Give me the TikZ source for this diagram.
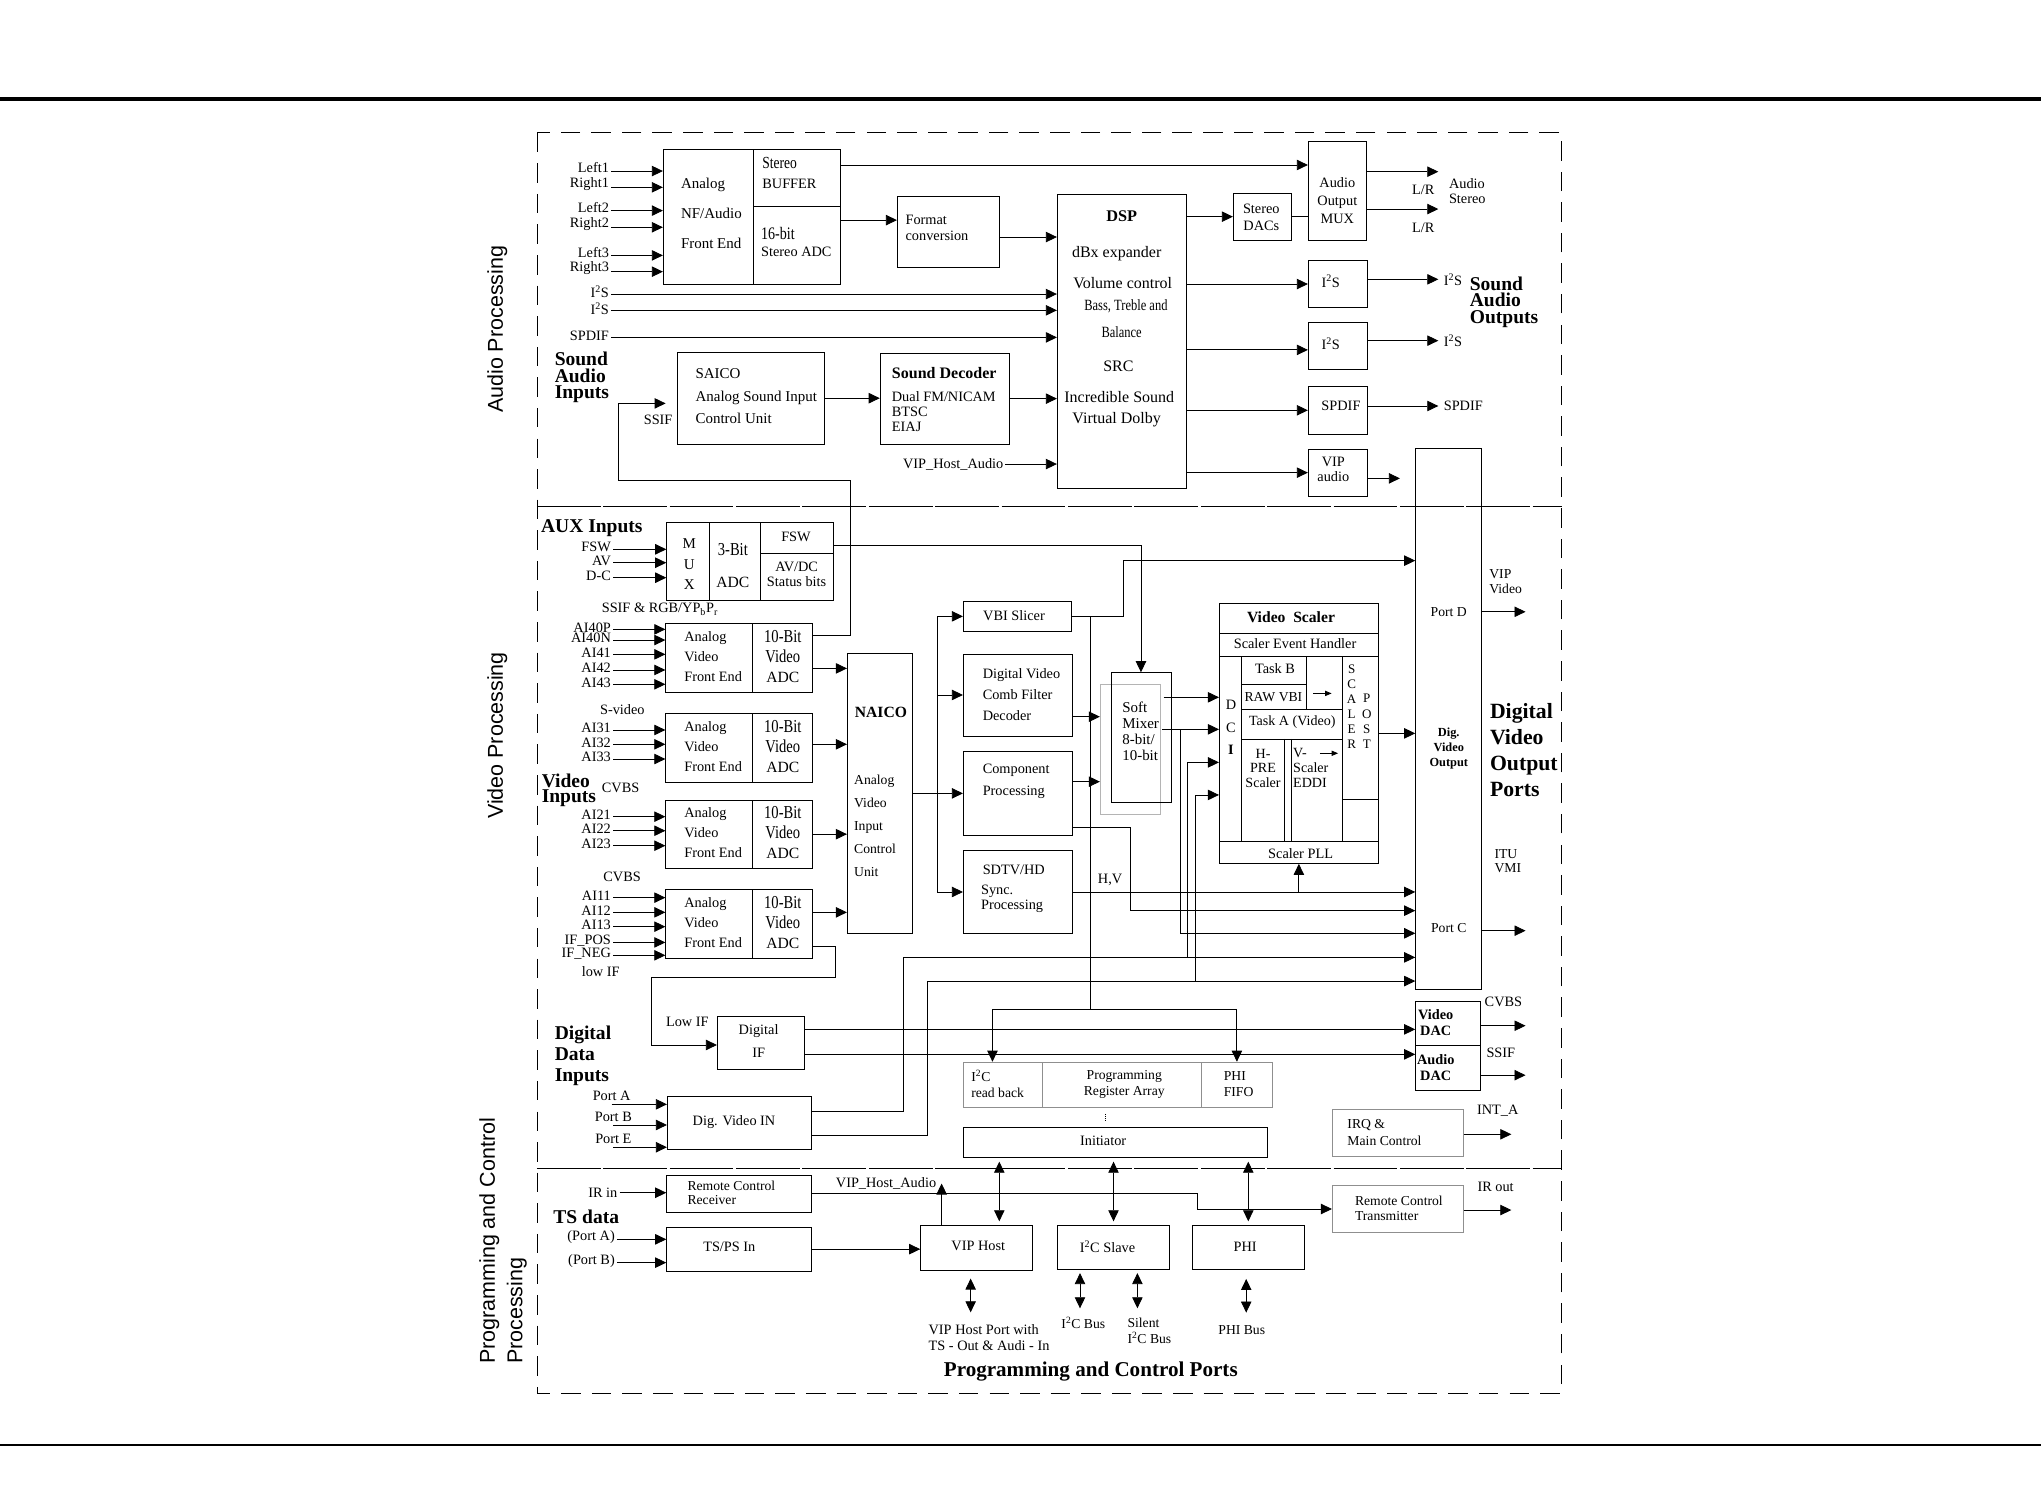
\documentclass[tikz,border=0pt]{standalone}
\usepackage{fontspec}
\setmainfont{Liberation Serif}
\setsansfont{Liberation Sans}
\usepackage{graphicx}
\usepackage{tikz}
\usetikzlibrary{arrows.meta,fit}
\definecolor{lgray}{HTML}{8F8F8F}
\definecolor{mgray}{HTML}{B4B4B4}
\newcommand{\narrowtxt}[1]{\scalebox{0.8}[1]{#1}}
\newcommand{\fsz}[2]{\fontsize{#1}{#2}\selectfont}
\tikzset{
  blk/.style={draw, line width=0.65pt, inner sep=0pt},
  gblk/.style={blk, draw=lgray},
  txt/.style={font=\fsz{11}{12}, inner sep=1pt, align=center},
  ltxt/.style={txt, align=left, anchor=west},
  inl/.style={txt, anchor=east, inner sep=1.5pt},
  outl/.style={txt, anchor=west, inner xsep=4pt},
  hd/.style={font=\fsz{15}{12.6}\bfseries, inner sep=0pt, align=left, anchor=west},
  sec/.style={font=\sffamily\fsz{16.5}{21}, inner sep=0pt},
  ln/.style={line width=0.65pt},
  arr/.style={ln, -{Triangle[length=8.5pt,width=8pt]}},
  darr/.style={ln, {Triangle[length=8.5pt,width=8pt]}-{Triangle[length=8.5pt,width=8pt]}},
}

\begin{document}
\begin{tikzpicture}[x=1pt,y=-1pt]
\useasboundingbox (0,0) rectangle (1568,1144);

% page rules, frame and section borders
\draw[line width=3.2pt] (0,76) -- (1568,76);
\draw[line width=1.4pt] (0,1110) -- (1568,1110);
\draw[ln, dash pattern=on 15pt off 8.5pt] (412.5,101.9) rectangle (1199.8,1070.2);
\draw[ln, dash pattern=on 49pt off 2pt] (412.5,389) -- (1199.8,389);
\draw[ln, dash pattern=on 49pt off 2pt] (412.5,898) -- (1199.8,898);

\node[sec, rotate=90] (secAud) at (382,253) {Audio Processing};
\node[sec, rotate=90] (secVid) at (382,565) {Video Processing};
\node[sec, rotate=90, anchor=west, align=left] (secPrg) at (386.5,1048) {Programming and Control\\Processing};

%% ---------------- audio ----------------
\node[blk, fit={(509.6,114.7) (579.1,218.4)}] (afe) {};
\node[blk, fit={(579.1,114.7) (645.5,158.8)}] (buf) {};
\node[blk, fit={(579.1,158.8) (645.5,218.4)}] (adc16) {};
\node[ltxt, font=\fsz{11.5}{23.4}] (afeT) at (522,163.9) {Analog\\NF/Audio\\Front End};
\node[ltxt, font=\fsz{11}{15.3}] (bufT) at (584.5,133.2) {\narrowtxt{\fsz{13}{15.3}Stereo}\\BUFFER};
\node[ltxt, font=\fsz{11}{13.3}] (adcT) at (583.5,186) {\narrowtxt{\fsz{13.5}{13.3}16-bit}\\Stereo ADC};

\node[blk, fit={(689.4,151.1) (767.8,205.1)}] (fmt) {};
\node[ltxt, font=\fsz{11}{12.8}] (fmtT) at (694.5,175) {Format\\conversion};

\node[blk, fit={(812.3,149.3) (911.1,375.2)}] (dsp) {};
\node[txt, font=\fsz{12.5}{14}\bfseries] (dspT) at (861.7,165.9) {DSP};
\node[txt, font=\fsz{12.3}{14}] (dspT1) at (857.9,195.1) {dBx expander};
\node[txt, font=\fsz{12.3}{14}] (dspT2) at (862.5,217.2) {Volume control};
\node[txt, font=\fsz{12}{14}] (dspT3) at (865,235.6) {\narrowtxt{Bass, Treble and}};
\node[txt, font=\fsz{12}{14}] (dspT4) at (861.7,254.8) {\narrowtxt{Balance}};
\node[txt, font=\fsz{12.3}{14}] (dspT5) at (859.2,281.2) {SRC};
\node[txt, font=\fsz{12.3}{14}] (dspT6) at (859.9,304.7) {Incredible Sound};
\node[txt, font=\fsz{12.3}{14}] (dspT7) at (857.9,322.1) {Virtual Dolby};

\node[blk, fit={(947.5,148.5) (992.1,184.4)}] (dacs) {};
\node[txt, font=\fsz{11}{12.8}] (dacsT) at (969,167.2) {Stereo\\DACs};
\node[blk, fit={(1005.1,108.8) (1049.7,184.4)}] (amux) {};
\node[txt, font=\fsz{11}{13.8}] (amuxT) at (1027.4,154.2) {Audio\\Output\\MUX};

\node[blk, fit={(1005.1,200.3) (1050.4,236.1)}] (i2so1) {};
\node[txt] (i2so1T) at (1022.3,216) {I\textsuperscript{2}S};
\node[blk, fit={(1005.1,247.9) (1050.4,283.7)}] (i2so2) {};
\node[txt] (i2so2T) at (1022.3,264) {I\textsuperscript{2}S};
\node[blk, fit={(1005.1,297) (1050.4,333.4)}] (spdo) {};
\node[txt] (spdoT) at (1030.2,312) {SPDIF};
\node[blk, fit={(1005.1,345.2) (1050.4,381)}] (vipa) {};
\node[txt, font=\fsz{11}{11.5}] (vipaT) at (1024.3,360.5) {VIP\\audio};

\node[blk, fit={(520.4,270.7) (633.4,341.1)}] (saico) {};
\node[ltxt, font=\fsz{11.5}{17.2}] (saicoT) at (533.2,304.5) {SAICO\\Analog Sound Input\\Control Unit};
\node[blk, fit={(676.2,271.4) (775.4,341.1)}] (sdec) {};
\node[txt, font=\fsz{12.3}{14}\bfseries] (sdecT) at (725.4,286.3) {Sound Decoder};
\node[ltxt, font=\fsz{11}{11.5}] (sdecL) at (684,316) {Dual FM/NICAM\\BTSC\\EIAJ};

\node[hd] (hdSAI) at (426,290) {Sound\\Audio\\Inputs};
\node[hd] (hdSAO) at (1129,232.2) {Sound\\Audio\\Outputs};
\node[txt] (ssifL) at (505.6,322.6) {SSIF};

% audio inputs
\foreach \nm/\tx/\y in {inL1/Left1/131.4, inR1/Right1/143.9, inL2/Left2/161.8, inR2/Right2/174.6, inL3/Left3/196.2, inR3/Right3/208.7}{
  \node[inl] (\nm) at (469.5,\y-2.5) {\tx};
  \draw[arr] ([yshift=-2.5pt]\nm.east) -- ([yshift=-2.5pt]\nm.east -| afe.west);
}
\foreach \nm/\tx/\y in {inS1/{I\textsuperscript{2}S}/225.9, inS2/{I\textsuperscript{2}S}/238.4, inSp/SPDIF/259.2}{
  \node[inl] (\nm) at (469.5,\y-1.5) {\tx};
  \draw[arr] ([yshift=-1.5pt]\nm.east) -- ([yshift=-1.5pt]\nm.east -| dsp.west);
}

% audio connectors
\draw[arr] ([yshift=10pt]buf.east) -- ([yshift=10pt]buf.east -| amux.west);
\draw[arr] ([yshift=9pt]fmt.west -| adc16.east) -- ([yshift=9pt]fmt.west);
\draw[arr] ([yshift=-4pt]fmt.east) -- ([yshift=-4pt]fmt.east -| dsp.west);
\draw[arr] (saico.east) -- (saico.east -| sdec.west);
\draw[arr] (sdec.east) -- (sdec.east -| dsp.west);
\node[txt, anchor=east] (vhaIn) at (772,356.5) {VIP\_Host\_Audio};
\draw[arr] (vhaIn.east) -- (vhaIn.east -| dsp.west);
\draw[arr] (dacs.west -| dsp.east) -- (dacs.west);
\draw[ln] (dacs.east) -- (dacs.east -| amux.west);
\draw[arr] (i2so1.west -| dsp.east) -- (i2so1.west);
\draw[arr] ([yshift=-3pt]i2so2.west -| dsp.east) -- ([yshift=-3pt]i2so2.west);
\draw[arr] (spdo.west -| dsp.east) -- (spdo.west);
\draw[arr] (vipa.west -| dsp.east) -- (vipa.west);

% audio outputs
\coordinate (oLR1) at (1105,131.9);
\coordinate (oLR2) at (1105,160.6);
\draw[arr] (oLR1 -| amux.east) -- (oLR1);
\draw[arr] (oLR2 -| amux.east) -- (oLR2);
\node[txt] (lr1) at (1093.5,146) {L/R};
\node[txt] (lr2) at (1093.5,174.9) {L/R};
\node[ltxt, font=\fsz{11}{11.6}] (audSt) at (1112,146.6) {Audio\\Stereo};
\node[outl] (oI2s1) at (1105,214.6) {I\textsuperscript{2}S};
\draw[arr] (oI2s1.west -| i2so1.east) -- (oI2s1.west);
\node[outl] (oI2s2) at (1105,261.7) {I\textsuperscript{2}S};
\draw[arr] (oI2s2.west -| i2so2.east) -- (oI2s2.west);
\node[outl] (oSpd) at (1105,311.9) {SPDIF};
\draw[arr] (oSpd.west -| spdo.east) -- (oSpd.west);
\coordinate (oVipa) at (1075.5,367.5);
\draw[arr] (oVipa -| vipa.east) -- (oVipa);

%% ---------------- video ----------------
\node[hd] (hdAux) at (415.5,405.9) {AUX Inputs};
\node[blk, fit={(512.2,401.5) (545,460.9)}] (auxmux) {};
\node[blk, fit={(545,401.5) (583.9,460.9)}] (auxadc) {};
\node[blk, fit={(583.9,401.5) (640.2,425.1)}] (fswb) {};
\node[blk, fit={(583.9,425.1) (640.2,460.9)}] (avdc) {};
\node[txt, font=\fsz{11.5}{16}] (auxmuxT) at (529.5,433.4) {M\\U\\X};
\node[txt, font=\fsz{12}{24.4}] (auxadcT) at (563,434.7) {\narrowtxt{\fsz{14}{24.4}3-Bit}\\ADC};
\node[txt] (fswbT) at (611.5,412.5) {FSW};
\node[txt, font=\fsz{11}{11.6}] (avdcT) at (612,441.1) {AV/DC\\Status bits};
\foreach \nm/\tx/\y in {inFsw/FSW/422, inAv/AV/432.3, inDc/D-C/443.8}{
  \node[inl] (\nm) at (471,\y-1.5) {\tx};
  \draw[arr] ([yshift=-1.5pt]\nm.east) -- ([yshift=-1.5pt]\nm.east -| auxmux.west);
}
\node[txt] (ssifRgb) at (507,468.1) {SSIF \& RGB/YP\textsubscript{b}P\textsubscript{r}};

% four analog front ends
\foreach \i/\ya/\yb in {1/478.9/531.9, 2/548/601, 3/614.6/667.1, 4/683.2/736}{
  \node[blk, fit={(511.5,\ya) (578.3,\yb)}] (vfe\i) {};
  \node[blk, fit={(578.3,\ya) (624.5,\yb)}] (vadc\i) {};
  \node[ltxt, font=\fsz{11}{15.4}] (vfeT\i) at (524.5,{(\ya+\yb)/2-1}) {Analog\\Video\\Front End};
  \node[txt, font=\fsz{12}{15.4}] (vadcT\i) at (601.4,{(\ya+\yb)/2-1}) {\narrowtxt{\fsz{14}{15.4}10-Bit}\\\narrowtxt{\fsz{14}{15.4}Video}\\ADC};
}
\foreach \nm/\tx/\y/\b in {inA40p/AI40P/483.5/vfe1, inA40n/AI40N/491.7/vfe1, inA41/AI41/502.7/vfe1, inA42/AI42/514.7/vfe1, inA43/AI43/525.7/vfe1, inA31/AI31/560.8/vfe2, inA32/AI32/571.8/vfe2, inA33/AI33/583.1/vfe2, inA21/AI21/627.4/vfe3, inA22/AI22/638.2/vfe3, inA23/AI23/649.7/vfe3, inA11/AI11/689.6/vfe4, inA12/AI12/700.9/vfe4, inA13/AI13/711.9/vfe4, inIfp/IF\_POS/724/vfe4, inIfn/IF\_NEG/733.9/vfe4}{
  \node[inl] (\nm) at (471,\y-1.5) {\tx};
  \draw[arr] ([yshift=-1.5pt]\nm.east) -- ([yshift=-1.5pt]\nm.east -| \b.west);
}
\node[txt] (sVid) at (478.1,544.9) {S-video};
\node[hd, font=\fsz{15}{12}\bfseries] (hdVin) at (416,607) {Video\\Inputs};
\node[txt] (cvbs3) at (476.8,605.5) {CVBS};
\node[txt] (cvbs4) at (477.9,673.5) {CVBS};
\node[txt] (lowif) at (461.5,746.5) {low IF};

\node[blk, fit={(651,502.2) (700.9,717)}] (naico) {};
\node[txt, font=\fsz{12}{14}\bfseries] (naicoT) at (676.8,547.3) {NAICO};
\node[ltxt, font=\fsz{10.5}{17.7}] (naicoL) at (655,634.7) {Analog\\Video\\Input\\Control\\Unit};

\node[blk, fit={(740.1,462.2) (823.3,484.8)}] (vbi) {};
\node[txt] (vbiT) at (779,473) {VBI Slicer};
\node[blk, fit={(740.1,502.4) (823.8,565.4)}] (comb) {};
\node[ltxt, font=\fsz{11}{16.3}] (combT) at (753.8,533.6) {Digital Video\\Comb Filter\\Decoder};
\node[blk, fit={(740.1,577.5) (823.8,641.5)}] (comp) {};
\node[ltxt, font=\fsz{11}{16.9}] (compT) at (753.8,600.5) {Component\\Processing};
\node[blk, fit={(740.1,653.5) (823.8,717)}] (sdtv) {};
\node[ltxt] (sdtvT) at (753.8,667.9) {SDTV/HD};
\node[ltxt, font=\fsz{11}{11}] (sdtvL) at (752.5,690.5) {Sync.\\Processing};

\node[blk, draw=mgray, fit={(845.3,526) (891.7,625.6)}] (mixo) {};
\node[blk, fit={(853.5,516.8) (899.6,616.4)}] (mixer) {};
\node[ltxt, font=\fsz{11.5}{12.3}] (mixerT) at (861,562.1) {Soft\\Mixer\\8-bit/\\10-bit};

% video scaler
\node[blk, fit={(936.8,463.5) (1058.9,663.3)}] (vs) {};
\draw[ln] (936.8,486.6) -- (1058.9,486.6);
\draw[ln] (936.8,504) -- (1058.9,504);
\draw[ln] (936.8,646.6) -- (1058.9,646.6);
\draw[ln] (953.9,504) -- (953.9,646.6);
\draw[ln] (953.9,525.7) -- (1003.3,525.7);
\draw[ln] (1003.3,504) -- (1003.3,544.7);
\draw[ln] (953.9,544.7) -- (1031.5,544.7);
\draw[ln] (953.9,567.7) -- (1031.5,567.7);
\draw[ln] (1031.5,504) -- (1031.5,646.6);
\draw[ln] (986.7,567.7) -- (986.7,646.6);
\draw[ln] (992.3,567.7) -- (992.3,646.6);
\draw[ln] (1031.5,614.1) -- (1058.9,614.1);
\draw[ln, -{Triangle[length=5pt,width=4pt]}] (1009,532.7) -- (1023,532.7);
\draw[ln, -{Triangle[length=5pt,width=4pt]}] (1014,578.7) -- (1028,578.7);
\node[txt, font=\fsz{12}{14}\bfseries] (vsT) at (991.8,474.5) {Video~~Scaler};
\node[txt] (vsSeh) at (994.9,494.6) {Scaler Event Handler};
\node[txt, font=\fsz{11}{17.3}] (vsDci) at (945.7,558.9) {D\\C\\\textbf{I}};
\node[txt] (vsTb) at (979.5,514) {Task B};
\node[txt, font=\fsz{10.5}{12}] (vsRaw) at (978.3,535.2) {RAW VBI};
\node[txt, font=\fsz{10.8}{12}] (vsTa) at (992.8,555) {Task A (Video)};
\node[txt, font=\fsz{10.8}{11.3}] (vsHpre) at (970.3,590.2) {H-\\PRE\\Scaler};
\node[ltxt, font=\fsz{10.8}{11.4}] (vsVsc) at (992.3,589.9) {V-\\Scaler\\EDDI};
\node[txt, font=\fsz{10}{11.5}] (vsScal) at (1038.4,542.9) {S\\C\\A\\L\\E\\R};
\node[txt, font=\fsz{10}{11.7}] (vsPost) at (1050,554.3) {P\\O\\S\\T};
\node[txt] (vsPll) at (999.2,655.5) {Scaler PLL};

% digital video output block
\node[blk, fit={(1087.6,344.4) (1138.3,760)}] (dvo) {};
\node[txt, font=\fsz{10.5}{12}] (portD) at (1113,470) {Port D};
\node[txt, font=\fsz{10.5}{12}] (portC) at (1113,713) {Port C};
\node[txt, font=\fsz{9.5}{11.8}\bfseries] (dvoT) at (1113,575) {Dig.\\Video\\Output};
\node[hd, font=\fsz{16.7}{20}\bfseries] (hdDVO) at (1144.5,576.5) {Digital\\Video\\Output\\Ports};
\node[ltxt, font=\fsz{10.5}{11.5}] (vipVid) at (1143,447) {VIP\\Video};
\node[ltxt, font=\fsz{10.5}{11}] (ituVmi) at (1147,661.5) {ITU\\VMI};
\coordinate (oPD) at (1172,470);
\draw[arr] (oPD -| dvo.east) -- (oPD);
\coordinate (oPC) at (1172,715);
\draw[arr] (oPC -| dvo.east) -- (oPC);

\node[blk, fit={(1087.6,769) (1137.4,803)}] (vdac) {};
\node[blk, fit={(1087.6,803) (1137.4,838)}] (adac) {};
\node[txt, font=\fsz{11}{12}\bfseries] (vdacT) at (1103,785.5) {Video\\DAC};
\node[txt, font=\fsz{11}{12.5}\bfseries] (adacT) at (1103,820) {Audio\\DAC};
\coordinate (oCv) at (1172,788);
\draw[arr] (oCv -| vdac.east) -- (oCv);
\node[txt] (cvbsO) at (1155,770) {CVBS};
\coordinate (oSs) at (1172,826);
\draw[arr] (oSs -| adac.east) -- (oSs);
\node[txt] (ssifO) at (1153,809) {SSIF};

\node[blk, fit={(551.1,781.1) (617.9,821.3)}] (dif) {};
\node[txt, font=\fsz{11}{17.2}] (difT) at (582.8,799.9) {Digital\\IF};
\node[txt] (lowIF) at (528,784.9) {Low IF};

\node[blk, fit={(512.7,842) (623.5,883)}] (dvin) {};
\node[txt] (dvinT) at (563.9,861.7) {Dig. Video IN};
\node[hd, font=\fsz{15}{16}\bfseries] (hdDDI) at (426,811) {Digital\\Data\\Inputs};
\foreach \nm/\tx/\x/\y in {pA/Port A/469.9/842, pB/Port B/471.2/857.9, pE/Port E/471.2/875}{
  \node[txt] (\nm) at (\x,\y) {\tx};
  \draw[arr] ([yshift=-1.5pt]\nm.south) -- ([yshift=-1.5pt]\nm.south -| dvin.west);
}

% video connectors
\draw[arr] ([yshift=-8.1pt]vadc1.east) -- ([yshift=-8.1pt]vadc1.east -| naico.west);
\draw[arr] ([yshift=2.7pt]vadc2.east) -- ([yshift=2.7pt]vadc2.east -| naico.west);
\draw[arr] (vadc3.east) -- (vadc3.east -| naico.west);
\draw[arr] ([yshift=8.7pt]vadc4.east) -- ([yshift=8.7pt]vadc4.east -| naico.west);

\coordinate (ss1) at (653.3,368.8);
\coordinate (ss2) at (475.4,309.9);
\draw[arr] ([yshift=-9.7pt]vadc1.north east) -| (ss1) -| (ss2) -- ([xshift=-8.7pt]ss2 -| saico.west);

\coordinate (trk) at (720.1,609.5);
\draw[arr] (naico.east |- comp.west) -- (comp.west);
\draw[arr] (trk) |- (vbi.west);
\draw[arr] (trk) |- (comb.west);
\draw[arr] (trk) |- (sdtv.west);

\draw[arr] ([yshift=-5.4pt]fswb.east) -| (mixer.north);
\coordinate (vbiup) at (863.3,430.7);
\draw[arr] (vbi.east) -| (vbiup) -- (vbiup -| dvo.west);
\coordinate (busj) at (837.9,775.4);
\draw[ln] (vbi.east -| busj) -- (busj);

\draw[arr] ([yshift=-16.7pt]comb.east) -- ([yshift=-16.7pt]comb.east -| mixo.west);
\draw[arr] ([yshift=9pt]comp.east) -- ([yshift=9pt]comp.east -| mixo.west);
\draw[arr] ([xshift=-6pt,yshift=30.9pt]mixer.east) -- ([yshift=30.9pt]mixer.east -| vs.west);
\draw[arr] ([xshift=-7pt,yshift=6.3pt]mixer.east) -- ([yshift=6.3pt]mixer.east -| vs.west);
\coordinate (mxb) at (906.5,560.3);
\coordinate (pc3) at (906.5,717);
\draw[arr] (mxb) -- (pc3) -- (pc3 -| dvo.west);
\draw[arr] (vs.east) -- (vs.east -| dvo.west);

\draw[arr] (sdtv.east) -- (sdtv.east -| dvo.west);
\draw[arr] (sdtv.east -| vs.south) -- (vs.south);
\node[txt] (hvL) at (852.8,676) {H,V};
\coordinate (cp2) at (868.6,699.6);
\draw[arr] ([yshift=5.9pt]comp.south east) -| (cp2) -- (cp2 -| dvo.west);

\coordinate (dv1) at (693.9,735.5);
\coordinate (dv1u) at (912.1,585.7);
\draw[arr] ([yshift=8.5pt]dvin.east) -| (dv1) -- (dv1 -| dvo.west);
\draw[arr] (dv1u |- dv1) -- (dv1u) -- (dv1u -| vs.west);
\coordinate (dv2) at (712.5,753.7);
\coordinate (dv2u) at (918.3,610.7);
\draw[arr] ([yshift=-9.5pt]dvin.east) -| (dv2) -- (dv2 -| dvo.west);
\draw[arr] (dv2u |- dv2) -- (dv2u) -- (dv2u -| vs.west);

\draw[arr] ([yshift=10.4pt]dif.east) -- ([yshift=10.4pt]dif.east -| vdac.west);
\draw[arr] ([yshift=-8.8pt]dif.east) -- ([yshift=-8.8pt]dif.east -| adac.west);
\coordinate (lif1) at (641.7,750.8);
\coordinate (lif2) at (500.6,802.8);
\draw[arr] ([yshift=9.2pt]vadc4.south east) -| (lif1) -| (lif2) -- (lif2 -| dif.west);

%% ---------------- programming and control ----------------
\node[gblk, fit={(740,816) (800.9,850.7)}] (i2crb) {};
\node[gblk, fit={(800.9,816) (923,850.7)}] (prog) {};
\node[gblk, fit={(923,816) (977.5,850.7)}] (phififo) {};
\node[ltxt, font=\fsz{10.5}{12.3}] (i2crbT) at (745,832.7) {I\textsuperscript{2}C\\read back};
\node[txt, font=\fsz{10.5}{12.1}] (progT) at (863.7,833.1) {Programming\\Register Array};
\node[ltxt, font=\fsz{10.5}{12.3}] (phififoT) at (939,832.7) {PHI\\FIFO};
\node[blk, fit={(740,866.1) (973.8,889.1)}] (init) {};
\node[txt] (initT) at (847.5,876.5) {Initiator};
\draw[ln, densely dotted] ([xshift=-7.4pt,yshift=-4.6pt]prog.south -| init.north) -- ([xshift=-7.4pt,yshift=4.4pt]init.north);
\draw[arr] (busj) -| ([xshift=-8pt]i2crb.north);
\draw[arr] (busj) -| (phififo.north);

\node[gblk, fit={(1023.6,852.2) (1124.1,888.6)}] (irq) {};
\node[ltxt, font=\fsz{10.5}{12.8}] (irqT) at (1034,870.2) {IRQ \&\\Main Control};
\coordinate (oInt) at (1161.1,871.4);
\draw[arr] (oInt -| irq.east) -- (oInt);
\node[txt] (intA) at (1150.6,853.5) {INT\_A};

\node[blk, fit={(512.2,903) (623.5,931.4)}] (rcr) {};
\node[ltxt, font=\fsz{10.5}{11}] (rcrT) at (527,916.4) {Remote Control\\Receiver};
\node[inl] (irIn) at (476,916.3) {IR in};
\draw[arr] (irIn.east) -- (irIn.east -| rcr.west);
\node[hd] (hdTS) at (425,934.7) {TS data};
\node[blk, fit={(512.2,942.9) (623.5,976.4)}] (tsps) {};
\node[txt] (tspsT) at (560.3,957.7) {TS/PS In};
\foreach \nm/\tx/\y in {tsA/{(Port A)}/952.1, tsB/{(Port B)}/970}{
  \node[inl] (\nm) at (474,\y-1.5) {\tx};
  \draw[arr] ([yshift=-1.5pt]\nm.east) -- ([yshift=-1.5pt]\nm.east -| tsps.west);
}

\node[blk, fit={(707.3,941.6) (793.1,975.9)}] (viph) {};
\node[txt] (viphT) at (751.6,957.5) {VIP Host};
\node[blk, fit={(812.5,941.6) (898.4,975.2)}] (i2cs) {};
\node[txt] (i2csT) at (850.8,957.5) {I\textsuperscript{2}C Slave};
\node[blk, fit={(915.9,941.6) (1002.1,975.2)}] (phi) {};
\node[txt] (phiT) at (956.6,958) {PHI};
\node[gblk, fit={(1023.6,910.9) (1124.1,946.7)}] (rct) {};
\node[ltxt, font=\fsz{10.5}{11.5}] (rctT) at (1039.8,928.2) {Remote Control\\Transmitter};
\coordinate (oIr) at (1161.1,929.6);
\draw[arr] (oIr -| rct.east) -- (oIr);
\node[txt] (irOut) at (1149,911.7) {IR out};

\draw[arr] (tsps.east) -- (tsps.east -| viph.west);
\coordinate (vhaJ) at (920.1,917.2);
\draw[arr] (rcr.east) -- (vhaJ) |- (rct.west);
\node[txt] (vhaOut) at (680.7,909.1) {VIP\_Host\_Audio};
\draw[arr] ([xshift=-26.8pt]viph.north) -- ([xshift=-26.8pt,yshift=8pt]viph.north |- rcr.east);
\draw[darr, shorten <=3pt, shorten >=3pt] ([xshift=17.5pt]viph.north |- init.south) -- ([xshift=17.5pt]viph.north);
\draw[darr, shorten <=3pt, shorten >=3pt] (i2cs.north |- init.south) -- (i2cs.north);
\draw[darr, shorten <=3pt, shorten >=3pt] (phi.north |- init.south) -- (phi.north);

\coordinate (bVip) at (745.7,1008.2);
\draw[darr, shorten <=6pt] (bVip |- viph.south) -- (bVip);
\coordinate (bI2c) at (829.7,1005.1);
\draw[darr, shorten <=2.5pt] (bI2c |- i2cs.south) -- (bI2c);
\coordinate (bSil) at (873.8,1005.1);
\draw[darr, shorten <=2.5pt] (bSil |- i2cs.south) -- (bSil);
\coordinate (bPhi) at (957.4,1008.4);
\draw[darr, shorten <=7pt] (bPhi |- phi.south) -- (bPhi);

\node[ltxt, font=\fsz{11}{12}] (vipPort) at (712.2,1027.8) {VIP Host Port with\\TS - Out \& Audi - In};
\node[txt, font=\fsz{10.5}{12}] (i2cBus) at (832.3,1016.6) {I\textsuperscript{2}C Bus};
\node[ltxt, font=\fsz{10.5}{12.1}] (silBus) at (865,1022.6) {Silent\\I\textsuperscript{2}C Bus};
\node[txt, font=\fsz{10.5}{12}] (phiBus) at (954,1021.8) {PHI Bus};
\node[txt, font=\fsz{16.2}{18}\bfseries] (hdPCP) at (838,1053.8) {Programming and Control Ports};
\end{tikzpicture}
\end{document}
